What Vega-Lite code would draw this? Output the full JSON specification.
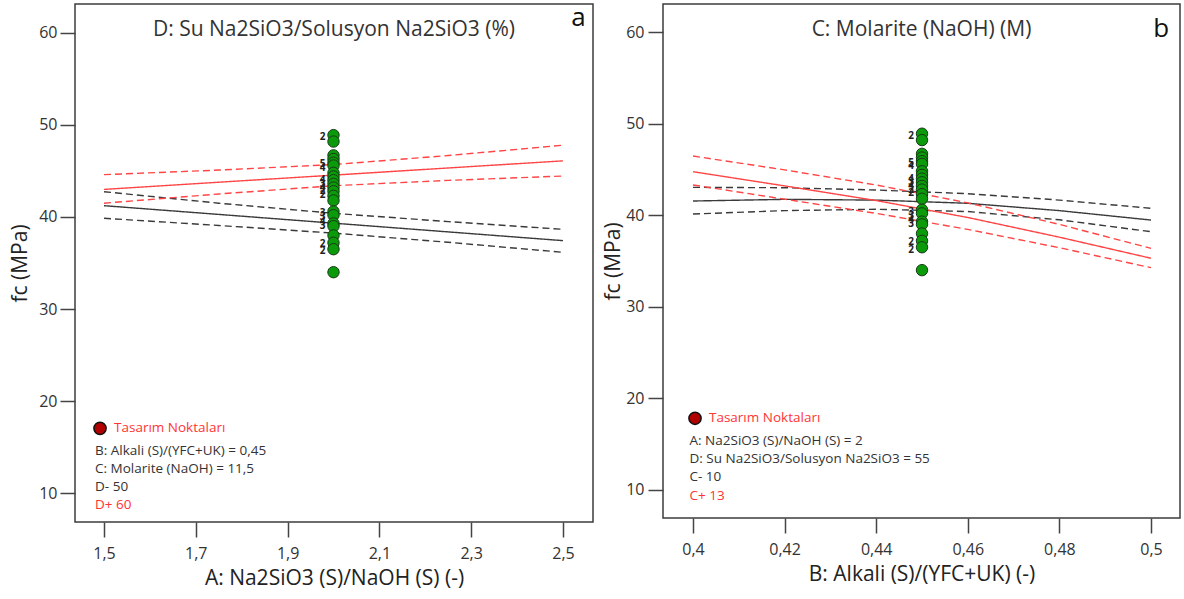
{
  "$schema": "https://vega.github.io/schema/vega-lite/v6.json",
  "background": "white",
  "padding": {"left": 8, "top": 3, "right": 0, "bottom": 0},
  "bounds": "flush",
  "spacing": 70,
  "config": {
    "font": "Open Sans",
    "view": {"stroke": "#3c3c3c", "strokeWidth": 1.5},
    "axis": {
      "domain": false, "grid": false, "tickSize": 15, "tickColor": "#444", "tickWidth": 1.5,
      "labelColor": "#333", "labelFontSize": 16, "labelFont": "Open Sans",
      "titleColor": "#222", "titleFontSize": 21, "titleFontWeight": "normal", "titleFont": "Open Sans"
    },
    "title": {"anchor": "middle", "fontSize": 21, "fontWeight": "normal", "color": "#333", "font": "Open Sans", "baseline": "middle", "offset": -36}
  },
  "datasets": {
    "lines_a": [
      {"x": 1.5, "y": 41.23, "s": "low", "b": "mean"}, {"x": 1.75, "y": 40.28, "s": "low", "b": "mean"}, {"x": 2.0, "y": 39.33, "s": "low", "b": "mean"}, {"x": 2.25, "y": 38.38, "s": "low", "b": "mean"}, {"x": 2.5, "y": 37.43, "s": "low", "b": "mean"},
      {"x": 1.5, "y": 42.75, "s": "low", "b": "upper"}, {"x": 1.75, "y": 41.5, "s": "low", "b": "upper"}, {"x": 2.0, "y": 40.4, "s": "low", "b": "upper"}, {"x": 2.25, "y": 39.5, "s": "low", "b": "upper"}, {"x": 2.5, "y": 38.66, "s": "low", "b": "upper"},
      {"x": 1.5, "y": 39.86, "s": "low", "b": "lower"}, {"x": 1.75, "y": 39.08, "s": "low", "b": "lower"}, {"x": 2.0, "y": 38.25, "s": "low", "b": "lower"}, {"x": 2.25, "y": 37.25, "s": "low", "b": "lower"}, {"x": 2.5, "y": 36.16, "s": "low", "b": "lower"},
      {"x": 1.5, "y": 43.0, "s": "high", "b": "mean"}, {"x": 1.75, "y": 43.78, "s": "high", "b": "mean"}, {"x": 2.0, "y": 44.55, "s": "high", "b": "mean"}, {"x": 2.25, "y": 45.33, "s": "high", "b": "mean"}, {"x": 2.5, "y": 46.1, "s": "high", "b": "mean"},
      {"x": 1.5, "y": 44.6, "s": "high", "b": "upper"}, {"x": 1.75, "y": 45.1, "s": "high", "b": "upper"}, {"x": 2.0, "y": 45.7, "s": "high", "b": "upper"}, {"x": 2.25, "y": 46.68, "s": "high", "b": "upper"}, {"x": 2.5, "y": 47.8, "s": "high", "b": "upper"},
      {"x": 1.5, "y": 41.5, "s": "high", "b": "lower"}, {"x": 1.75, "y": 42.5, "s": "high", "b": "lower"}, {"x": 2.0, "y": 43.4, "s": "high", "b": "lower"}, {"x": 2.25, "y": 43.98, "s": "high", "b": "lower"}, {"x": 2.5, "y": 44.45, "s": "high", "b": "lower"}
    ],
    "lines_b": [
      {"x": 0.40, "y": 41.55, "s": "low", "b": "mean"}, {"x": 0.42, "y": 41.73, "s": "low", "b": "mean"}, {"x": 0.44, "y": 41.65, "s": "low", "b": "mean"}, {"x": 0.46, "y": 41.3, "s": "low", "b": "mean"}, {"x": 0.48, "y": 40.5, "s": "low", "b": "mean"}, {"x": 0.50, "y": 39.47, "s": "low", "b": "mean"},
      {"x": 0.40, "y": 43.04, "s": "low", "b": "upper"}, {"x": 0.42, "y": 43.0, "s": "low", "b": "upper"}, {"x": 0.44, "y": 42.75, "s": "low", "b": "upper"}, {"x": 0.46, "y": 42.35, "s": "low", "b": "upper"}, {"x": 0.48, "y": 41.65, "s": "low", "b": "upper"}, {"x": 0.50, "y": 40.75, "s": "low", "b": "upper"},
      {"x": 0.40, "y": 40.13, "s": "low", "b": "lower"}, {"x": 0.42, "y": 40.5, "s": "low", "b": "lower"}, {"x": 0.44, "y": 40.65, "s": "low", "b": "lower"}, {"x": 0.46, "y": 40.4, "s": "low", "b": "lower"}, {"x": 0.48, "y": 39.5, "s": "low", "b": "lower"}, {"x": 0.50, "y": 38.2, "s": "low", "b": "lower"},
      {"x": 0.40, "y": 44.75, "s": "high", "b": "mean"}, {"x": 0.42, "y": 43.2, "s": "high", "b": "mean"}, {"x": 0.44, "y": 41.6, "s": "high", "b": "mean"}, {"x": 0.46, "y": 39.75, "s": "high", "b": "mean"}, {"x": 0.48, "y": 37.6, "s": "high", "b": "mean"}, {"x": 0.50, "y": 35.3, "s": "high", "b": "mean"},
      {"x": 0.40, "y": 46.46, "s": "high", "b": "upper"}, {"x": 0.42, "y": 44.95, "s": "high", "b": "upper"}, {"x": 0.44, "y": 43.3, "s": "high", "b": "upper"}, {"x": 0.46, "y": 41.35, "s": "high", "b": "upper"}, {"x": 0.48, "y": 39.0, "s": "high", "b": "upper"}, {"x": 0.50, "y": 36.38, "s": "high", "b": "upper"},
      {"x": 0.40, "y": 43.3, "s": "high", "b": "lower"}, {"x": 0.42, "y": 41.75, "s": "high", "b": "lower"}, {"x": 0.44, "y": 40.2, "s": "high", "b": "lower"}, {"x": 0.46, "y": 38.45, "s": "high", "b": "lower"}, {"x": 0.48, "y": 36.45, "s": "high", "b": "lower"}, {"x": 0.50, "y": 34.27, "s": "high", "b": "lower"}
    ],
    "runs": [
      {"fc": 48.9}, {"fc": 48.2}, {"fc": 46.7}, {"fc": 46.3}, {"fc": 45.9}, {"fc": 45.6}, {"fc": 44.8}, {"fc": 44.4}, {"fc": 44.0}, {"fc": 43.6}, {"fc": 43.2},
      {"fc": 42.8}, {"fc": 42.3}, {"fc": 41.8}, {"fc": 40.6}, {"fc": 40.2}, {"fc": 39.3}, {"fc": 39.0}, {"fc": 38.0}, {"fc": 37.2}, {"fc": 36.5}, {"fc": 34.0}
    ],
    "mult": [
      {"fc": 48.7, "n": "2"}, {"fc": 45.75, "n": "5"}, {"fc": 45.35, "n": "4"}, {"fc": 44.0, "n": "4"}, {"fc": 43.6, "n": "3"}, {"fc": 43.2, "n": "4"}, {"fc": 42.8, "n": "2"},
      {"fc": 42.4, "n": "2"}, {"fc": 40.4, "n": "3"}, {"fc": 39.95, "n": "3"}, {"fc": 39.5, "n": "4"}, {"fc": 39.05, "n": "3"}, {"fc": 37.1, "n": "2"}, {"fc": 36.25, "n": "2"}
    ],
    "legend_a": [
      {"x": 1.5218, "y": 17.03, "t": "Tasarım Noktaları", "k": "head"},
      {"x": 1.4804, "y": 14.60, "t": "B: Alkali (S)/(YFC+UK) = 0,45", "k": "fixed"},
      {"x": 1.4804, "y": 12.61, "t": "C: Molarite (NaOH) = 11,5", "k": "fixed"},
      {"x": 1.4804, "y": 10.68, "t": "D- 50", "k": "low"},
      {"x": 1.4804, "y": 8.70, "t": "D+ 60", "k": "high"}
    ],
    "legend_b": [
      {"x": 0.40349, "y": 17.83, "t": "Tasarım Noktaları", "k": "head"},
      {"x": 0.39924, "y": 15.38, "t": "A: Na2SiO3 (S)/NaOH (S) = 2", "k": "fixed"},
      {"x": 0.39924, "y": 13.38, "t": "D: Su Na2SiO3/Solusyon Na2SiO3 = 55", "k": "fixed"},
      {"x": 0.39924, "y": 11.39, "t": "C- 10", "k": "low"},
      {"x": 0.39924, "y": 9.38, "t": "C+ 13", "k": "high"}
    ]
  },
  "hconcat": [
    {
      "width": 518, "height": 518,
      "title": {"text": "D: Su Na2SiO3/Solusyon Na2SiO3 (%)"},
      "encoding": {
        "x": {"type": "quantitative", "scale": {"domain": [1.4368, 2.5654], "nice": false, "zero": false},
          "axis": {"title": "A: Na2SiO3 (S)/NaOH (S) (-)", "values": [1.5, 1.7, 1.9, 2.1, 2.3, 2.5], "labelExpr": "replace(format(datum.value, '.1f'), '.', ',')", "labelPadding": 8, "titlePadding": 6}},
        "y": {"type": "quantitative", "scale": {"domain": [6.85, 63.15], "nice": false, "zero": false},
          "axis": {"title": "fc (MPa)", "values": [10, 20, 30, 40, 50, 60], "format": "d", "labelPadding": 3, "titlePadding": 8}}
      },
      "layer": [
        {"data": {"name": "lines_a"}, "mark": {"type": "line", "strokeWidth": 1.4},
          "encoding": {"x": {"field": "x", "type": "quantitative"}, "y": {"field": "y", "type": "quantitative"},
            "stroke": {"field": "s", "type": "nominal", "scale": {"domain": ["low", "high"], "range": ["#3a3a3a", "#ff4545"]}, "legend": null},
            "strokeDash": {"field": "b", "type": "nominal", "scale": {"domain": ["mean", "lower", "upper"], "range": [[1, 0], [7, 4], [7, 4]]}, "legend": null}}},
        {"data": {"name": "mult"}, "mark": {"type": "text", "align": "right", "baseline": "middle", "dx": -8, "fontSize": 10, "fontWeight": "bold", "fill": "#222"},
          "encoding": {"x": {"datum": 2, "type": "quantitative"}, "y": {"field": "fc", "type": "quantitative"}, "text": {"field": "n"}}},
        {"data": {"name": "runs"}, "mark": {"type": "point", "shape": "circle", "filled": true, "size": 130, "fill": "#0a9a0a", "stroke": "#163d16", "strokeWidth": 1, "opacity": 1},
          "encoding": {"x": {"datum": 2, "type": "quantitative"}, "y": {"field": "fc", "type": "quantitative"}}},
        {"data": {"values": [{"x": 1.4913, "y": 17.03}]}, "mark": {"type": "point", "shape": "circle", "filled": true, "size": 150, "fill": "#b00000", "stroke": "#111", "strokeWidth": 1.5, "opacity": 1},
          "encoding": {"x": {"field": "x", "type": "quantitative"}, "y": {"field": "y", "type": "quantitative"}}},
        {"data": {"name": "legend_a"}, "mark": {"type": "text", "align": "left", "baseline": "middle", "fontSize": 13.5},
          "encoding": {"x": {"field": "x", "type": "quantitative"}, "y": {"field": "y", "type": "quantitative"}, "text": {"field": "t"},
            "fill": {"field": "k", "type": "nominal", "scale": {"domain": ["head", "fixed", "low", "high"], "range": ["#ff3535", "#333333", "#333333", "#ff3535"]}, "legend": null}}},
        {"data": {"values": [{"x": 2.534, "y": 60.76, "t": "a"}]}, "mark": {"type": "text", "align": "center", "baseline": "alphabetic", "fontSize": 26, "fill": "#111"},
          "encoding": {"x": {"field": "x", "type": "quantitative"}, "y": {"field": "y", "type": "quantitative"}, "text": {"field": "t"}}}
      ]
    },
    {
      "width": 517, "height": 514,
      "title": {"text": "C: Molarite (NaOH) (M)"},
      "encoding": {
        "x": {"type": "quantitative", "scale": {"domain": [0.39345, 0.50633], "nice": false, "zero": false},
          "axis": {"title": "B: Alkali (S)/(YFC+UK) (-)", "values": [0.4, 0.42, 0.44, 0.46, 0.48, 0.5], "labelExpr": "replace(format(datum.value, '.2~f'), '.', ',')", "labelPadding": 8, "titlePadding": 6}},
        "y": {"type": "quantitative", "scale": {"domain": [6.94, 63.06], "nice": false, "zero": false},
          "axis": {"title": "fc (MPa)", "values": [10, 20, 30, 40, 50, 60], "format": "d", "labelPadding": 4, "titlePadding": 2}}
      },
      "layer": [
        {"data": {"name": "lines_b"}, "mark": {"type": "line", "strokeWidth": 1.4},
          "encoding": {"x": {"field": "x", "type": "quantitative"}, "y": {"field": "y", "type": "quantitative"},
            "stroke": {"field": "s", "type": "nominal", "scale": {"domain": ["low", "high"], "range": ["#3a3a3a", "#ff4545"]}, "legend": null},
            "strokeDash": {"field": "b", "type": "nominal", "scale": {"domain": ["mean", "lower", "upper"], "range": [[1, 0], [7, 4], [7, 4]]}, "legend": null}}},
        {"data": {"name": "mult"}, "mark": {"type": "text", "align": "right", "baseline": "middle", "dx": -8, "fontSize": 10, "fontWeight": "bold", "fill": "#222"},
          "encoding": {"x": {"datum": 0.45, "type": "quantitative"}, "y": {"field": "fc", "type": "quantitative"}, "text": {"field": "n"}}},
        {"data": {"name": "runs"}, "mark": {"type": "point", "shape": "circle", "filled": true, "size": 130, "fill": "#0a9a0a", "stroke": "#163d16", "strokeWidth": 1, "opacity": 1},
          "encoding": {"x": {"datum": 0.45, "type": "quantitative"}, "y": {"field": "fc", "type": "quantitative"}}},
        {"data": {"values": [{"x": 0.40044, "y": 17.83}]}, "mark": {"type": "point", "shape": "circle", "filled": true, "size": 150, "fill": "#b00000", "stroke": "#111", "strokeWidth": 1.5, "opacity": 1},
          "encoding": {"x": {"field": "x", "type": "quantitative"}, "y": {"field": "y", "type": "quantitative"}}},
        {"data": {"name": "legend_b"}, "mark": {"type": "text", "align": "left", "baseline": "middle", "fontSize": 13.5},
          "encoding": {"x": {"field": "x", "type": "quantitative"}, "y": {"field": "y", "type": "quantitative"}, "text": {"field": "t"},
            "fill": {"field": "k", "type": "nominal", "scale": {"domain": ["head", "fixed", "low", "high"], "range": ["#ff3535", "#333333", "#333333", "#ff3535"]}, "legend": null}}},
        {"data": {"values": [{"x": 0.50222, "y": 59.45, "t": "b"}]}, "mark": {"type": "text", "align": "center", "baseline": "alphabetic", "fontSize": 26, "fill": "#111"},
          "encoding": {"x": {"field": "x", "type": "quantitative"}, "y": {"field": "y", "type": "quantitative"}, "text": {"field": "t"}}}
      ]
    }
  ]
}
